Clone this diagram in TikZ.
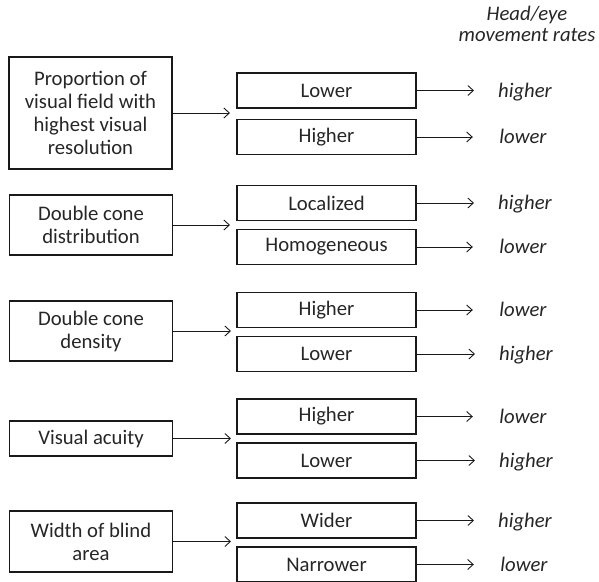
\documentclass[tikz,border=0pt]{standalone}
\usepackage{fontspec}
\setmainfont{Carlito}
\usetikzlibrary{arrows.meta}
\begin{document}
\begin{tikzpicture}[x=1pt,y=-1pt]
        \tikzstyle{every node}=[font=\fontsize{20.7}{23}\selectfont, text=black!85];
        \tikzstyle{cause}=[draw=black!90, line width=1.1pt, minimum width=163pt, align=center, inner sep=0pt];
        \tikzstyle{choice}=[draw=black!90, line width=1.1pt, minimum width=179pt, minimum height=35pt, inner sep=0pt];
        \tikzstyle{rate}=[font=\fontsize{20.7}{23}\selectfont\itshape, minimum width=52pt, inner sep=0pt, text height=16pt, text depth=3pt];
        \tikzstyle{link}=[-{Straight Barb[length=5.5pt, width=10pt]}, line width=0.9pt, black!90];
        \useasboundingbox (0,0) rectangle (599,581);

        \node[font=\fontsize{20.7}{21.5}\selectfont\itshape, align=center] (head) at (527,24) {Head/eye\\movement rates};

        % causes
        \node[cause, minimum height=112pt] (prop) at (90.5,113) {Proportion of\\visual field with\\highest visual\\resolution};
        \node[cause, minimum height=60pt] (distr) at (91,225) {Double cone\\distribution};
        \node[cause, minimum height=60pt] (dens) at (91,331) {Double cone\\density};
        \node[cause, minimum height=35pt] (acuity) at (91,438.5) {Visual acuity};
        \node[cause, minimum height=61pt] (blind) at (91,541.5) {Width of blind\\area};

        % choices
        \node[choice] (prop1) at (326.5,90.5) {Lower};
        \node[choice] (prop2) at (326.5,137) {Higher};
        \node[choice] (distr1) at (326.5,203) {Localized};
        \node[choice] (distr2) at (326.5,247) {Homogeneous};
        \node[choice] (dens1) at (326.5,310) {Higher};
        \node[choice] (dens2) at (326.5,354) {Lower};
        \node[choice] (acuity1) at (326.5,416.5) {Higher};
        \node[choice] (acuity2) at (326.5,460.5) {Lower};
        \node[choice] (blind1) at (326.5,520.5) {Wider};
        \node[choice] (blind2) at (326.5,564.5) {Narrower};

        % rates
        \node[rate] (prop1r) at (525,90.5) {higher};
        \node[rate] (prop2r) at (523,137) {lower};
        \node[rate] (distr1r) at (525,203) {higher};
        \node[rate] (distr2r) at (523,247) {lower};
        \node[rate] (dens1r) at (523,310) {lower};
        \node[rate] (dens2r) at (526,354) {higher};
        \node[rate] (acuity1r) at (523,416.5) {lower};
        \node[rate] (acuity2r) at (526,460.5) {higher};
        \node[rate] (blind1r) at (525,520.5) {higher};
        \node[rate] (blind2r) at (524,564.5) {lower};

        \coordinate (propin) at (230,113);
        \coordinate (distrin) at (230,225);
        \coordinate (densin) at (231,331);
        \coordinate (acuityin) at (231,438.5);
        \coordinate (blindin) at (231,541.5);

        \foreach \c in {prop, distr, dens, acuity, blind} {
            \draw[link] (\c) -- (\c in);
            \draw[link, shorten >=24pt] (\c1) -- (\c1r);
            \draw[link, shorten >=24pt] (\c2) -- (\c2r);
        }
\end{tikzpicture}
\end{document}
